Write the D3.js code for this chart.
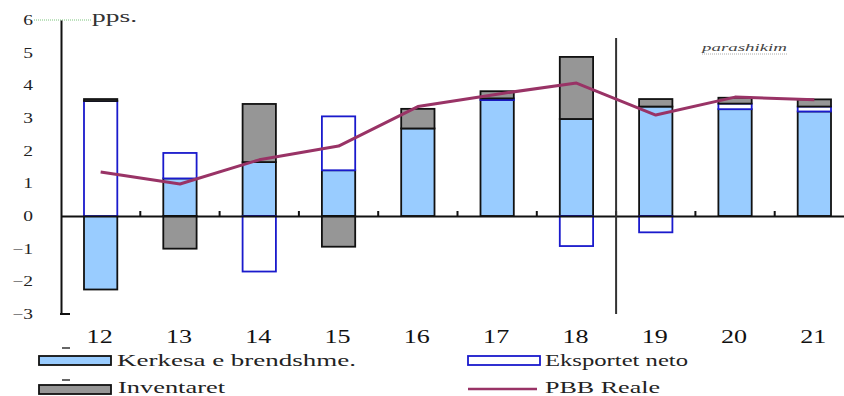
<!DOCTYPE html>
<html>
<head>
<meta charset="utf-8">
<script src="https://cdn.jsdelivr.net/npm/d3@7"></script>
<style>
  html, body { margin: 0; padding: 0; background: #fff; }
  svg { display: block; }
  svg text { font-family: "Liberation Serif", "DejaVu Serif", serif; }
</style>
</head>
<body>
<div id="chart"></div>
<script>
// ---- data ----
const years = ["12", "13", "14", "15", "16", "17", "18", "19", "20", "21"];
const kerkesa = [-2.25, 1.15, 1.65, 1.4, 2.68, 3.55, 2.97, 3.35, 3.27, 3.2];
const eksport = [3.52, 0.78, -1.7, 1.65, 0.0, 0.05, -0.92, -0.5, 0.17, 0.15];
const inventar = [0.06, -1.0, 1.78, -0.94, 0.6, 0.22, 1.9, 0.23, 0.18, 0.22];
const pbb = [1.35, 0.98, 1.72, 2.14, 3.35, 3.73, 4.07, 3.09, 3.64, 3.56];
const yTicks = [-3, -2, -1, 0, 1, 2, 3, 4, 5, 6];
const seriesNames = ["Kerkesa e brendshme.", "Eksportet neto", "Inventaret", "PBB Reale"];
const forecastLabel = "parashikim";
const unitLabel = "pps.";
const forecastStart = "19";

const W = 844, H = 396;
const FONT = "Liberation Serif, DejaVu Serif, serif";
const svg = d3.select("#chart").append("svg").attr("width", W).attr("height", H);

const x = d3.scaleBand().domain(years).range([61, 854]).paddingInner(0.58).paddingOuter(0.29);
const y = d3.scaleLinear().domain([-3, 6]).range([314, 20]);
const step = x.step();

const table = years.map((yr, i) => ({ year: yr, k: kerkesa[i], e: eksport[i], inv: inventar[i] }));
const keys = ["k", "e", "inv"];
const stack = d3.stack().keys(keys).offset(d3.stackOffsetDiverging);
const layers = stack(table);

const fills = { k: "#99ccff", e: "#ffffff", inv: "#969696" };
const strokes = { k: "#111111", e: "#1a1acc", inv: "#111111" };

// green dotted artifact line near top
svg.append("line").attr("x1", 34).attr("x2", 92).attr("y1", y(6)).attr("y2", y(6))
  .attr("stroke", "#7cc47c").attr("stroke-width", 1).attr("stroke-dasharray", "1,1");

// bars
layers.forEach(layer => {
  svg.append("g").selectAll("rect").data(layer).join("rect")
    .attr("x", d => x(d.data.year))
    .attr("width", x.bandwidth())
    .attr("y", d => y(Math.max(d[0], d[1])))
    .attr("height", d => Math.abs(y(d[0]) - y(d[1])))
    .attr("fill", fills[layer.key])
    .attr("stroke", strokes[layer.key])
    .attr("stroke-width", d => Math.abs(d[1] - d[0]) > 0 ? 1.8 : 0);
});

// x axis line (labels drawn separately)
const gx = svg.append("g").attr("transform", `translate(0,${y(0)})`)
  .call(d3.axisBottom(x).tickSize(0).tickFormat(""));
gx.select(".domain").attr("stroke", "#111").attr("stroke-width", 2);
svg.append("g").selectAll("text").data(years).join("text")
  .attr("transform", d => `translate(${x(d) + x.bandwidth() / 2 - 1},343) scale(1.45,1)`)
  .attr("text-anchor", "middle").attr("font-size", 18).attr("fill", "#111")
  .attr("font-family", FONT).text(d => d);

// boundary ticks (upward)
const bounds = years.slice(0, -1).map(d => x(d) + x.bandwidth() + step * 0.29);
svg.append("g").selectAll("line").data(bounds).join("line")
  .attr("x1", d => d).attr("x2", d => d)
  .attr("y1", y(0)).attr("y2", y(0) - 5)
  .attr("stroke", "#111").attr("stroke-width", 2);

// y axis
const gy = svg.append("g").attr("transform", `translate(61,0)`)
  .call(d3.axisLeft(y).tickValues(yTicks).tickSize(0).tickFormat(""));
gy.select(".domain").attr("stroke", "#111").attr("stroke-width", 2);
svg.append("g").selectAll("text").data(yTicks).join("text")
  .attr("transform", d => `translate(33,${y(d) + 5}) scale(1.3,1)`)
  .attr("text-anchor", "end").attr("font-size", 15).attr("fill", "#222")
  .attr("font-family", FONT).text(d => d3.format("d")(d));
// small bottom tick
svg.append("line").attr("x1", 60).attr("x2", 70).attr("y1", y(-3)).attr("y2", y(-3))
  .attr("stroke", "#111").attr("stroke-width", 2);

// forecast divider
const divX = x(forecastStart) - step * 0.29;
svg.append("line").attr("x1", divX).attr("x2", divX).attr("y1", 38).attr("y2", y(-3))
  .attr("stroke", "#333").attr("stroke-width", 2);

// PBB line
const line = d3.line().x((d, i) => x(years[i]) + x.bandwidth() / 2).y(d => y(d));
svg.append("path").datum(pbb).attr("d", line)
  .attr("fill", "none").attr("stroke", "#993366").attr("stroke-width", 3)
  .attr("stroke-linejoin", "round");

// labels
svg.append("text").attr("x", 92).attr("y", 22).attr("font-size", 16).attr("fill", "#333")
  .attr("font-family", FONT)
  .attr("textLength", 45).attr("lengthAdjust", "spacingAndGlyphs").text(unitLabel);
svg.append("text").attr("x", 702).attr("y", 51).attr("font-size", 11).attr("font-style", "italic")
  .attr("font-family", FONT)
  .attr("fill", "#444").attr("textLength", 85).attr("lengthAdjust", "spacingAndGlyphs").text(forecastLabel);
svg.append("line").attr("x1", 702).attr("x2", 787).attr("y1", 54).attr("y2", 54)
  .attr("stroke", "#aaa").attr("stroke-width", 1).attr("stroke-dasharray", "1,1");

// small dash artifacts
[348, 380].forEach(yy => svg.append("line").attr("x1", 62).attr("x2", 70).attr("y1", yy).attr("y2", yy)
  .attr("stroke", "#333").attr("stroke-width", 1.5));

// legend
const leg = [
  { name: seriesNames[0], type: "rect", key: "k", x: 39, y: 356, tx: 117, ty: 366, tl: 239 },
  { name: seriesNames[1], type: "rect", key: "e", x: 468, y: 356, tx: 545, ty: 366, tl: 143 },
  { name: seriesNames[2], type: "rect", key: "inv", x: 39, y: 385, tx: 118, ty: 393, tl: 107 },
  { name: seriesNames[3], type: "line", x: 468, y: 385, tx: 545, ty: 393, tl: 115 }
];
leg.forEach(l => {
  if (l.type === "rect") {
    svg.append("rect").attr("x", l.x).attr("y", l.y).attr("width", 72).attr("height", 9)
      .attr("fill", fills[l.key]).attr("stroke", strokes[l.key]).attr("stroke-width", 1.8);
  } else {
    svg.append("line").attr("x1", l.x).attr("x2", l.x + 69).attr("y1", l.y + 4).attr("y2", l.y + 4)
      .attr("stroke", "#993366").attr("stroke-width", 2.5);
  }
  svg.append("text").attr("x", l.tx).attr("y", l.ty).attr("font-size", 17).attr("fill", "#222")
    .attr("font-family", FONT)
    .attr("textLength", l.tl).attr("lengthAdjust", "spacingAndGlyphs").text(l.name);
});
</script>
</body>
</html>
